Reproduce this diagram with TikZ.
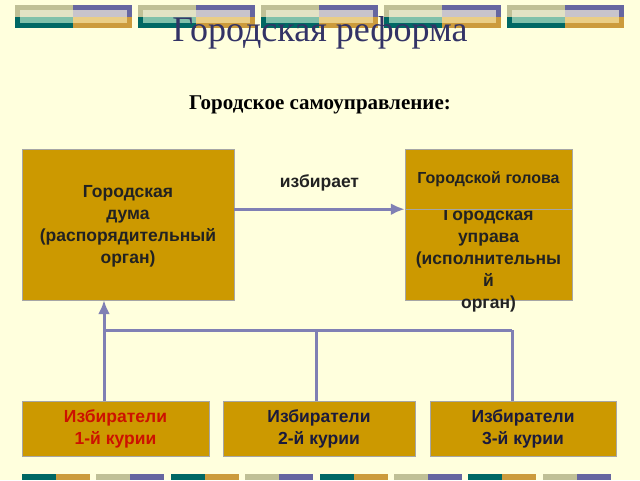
\documentclass[tikz,border=0pt]{standalone}
\usepackage{fontspec}
\setmainfont{Liberation Serif}
\setsansfont{Liberation Sans}
\usepackage{tikz}
\usetikzlibrary{arrows.meta}
\definecolor{paper}{RGB}{255,255,221}
\definecolor{ochre}{RGB}{204,153,0}
\definecolor{wire}{RGB}{128,128,180}
\definecolor{heading}{RGB}{51,51,102}
\definecolor{ink}{RGB}{34,34,34}
\definecolor{navy}{RGB}{26,26,60}
\definecolor{redink}{RGB}{204,17,0}
\definecolor{barteal}{RGB}{0,104,100}
\definecolor{bargold}{RGB}{204,155,60}
\definecolor{barsage}{RGB}{192,192,150}
\definecolor{barviolet}{RGB}{102,102,160}
\definecolor{palesage}{RGB}{226,226,196}
\definecolor{paleteal}{RGB}{128,192,170}
\definecolor{paleviolet}{RGB}{200,196,204}
\definecolor{palegold}{RGB}{234,206,134}

\begin{document}
\begin{tikzpicture}[x=1pt,y=-1pt]
% Node styles ---
\tikzstyle{box} = [rectangle, draw = gray!70, fill = ochre, inner sep = 0pt] % Organs and voters
\tikzstyle{txt} = [align = center, text = ink, font = \sffamily\bfseries\fontsize{17.5}{22}\selectfont] % Box text
% Edge styles
\tikzstyle{wirex} = [draw = wire, line width = 3pt] % Plain lines
\tikzstyle{con} = [wirex, -{Latex[length=14pt,width=12pt]}] % Elects
% Background and bars ---
\fill[paper] (0,0) rectangle (640,480);
\foreach \x in {15,138,261,384,507} {
  \fill[barsage] (\x,5) rectangle ++(58,12);
  \fill[barteal] (\x,17) rectangle ++(58,11);
  \fill[barviolet] (\x+58,5) rectangle ++(59,12);
  \fill[bargold] (\x+58,17) rectangle ++(59,11);
  \fill[palesage] (\x+5,10) rectangle ++(53,7);
  \fill[paleteal] (\x+5,17) rectangle ++(53,6);
  \fill[paleviolet] (\x+58,10) rectangle ++(54,7);
  \fill[palegold] (\x+58,17) rectangle ++(54,6);
}
\foreach \x in {22,170.8,319.6,468.4} {
  \fill[barteal] (\x,474) rectangle ++(34,6);
  \fill[bargold] (\x+34,474) rectangle ++(34,6);
}
\foreach \x in {96.4,245.2,394,542.8} {
  \fill[barsage] (\x,474) rectangle ++(34,6);
  \fill[barviolet] (\x+34,474) rectangle ++(34,6);
}
% Titles
\node at (320,33) [text = heading, font = \fontsize{36}{40}\selectfont] (title) {Городская реформа};
\node at (320,105) [font = \bfseries\fontsize{21}{24}\selectfont] (subtitle) {Городское самоуправление:};
% Nodes
\node at (128,224.5) [box, minimum width = 212pt, minimum height = 151pt] (duma) {};
\node at (128,226) [txt] (dumatext) {Городская\\дума\\(распорядительный\\орган)};
\node at (488.5,254.5) [box, minimum width = 167pt, minimum height = 91pt] (uprava) {};
\node at (488.5,260) [txt] (upravatext) {Городская\\управа\\(исполнительны\\й\\орган)};
\node at (488.5,179) [box, minimum width = 167pt, minimum height = 60pt, txt, font = \sffamily\bfseries\fontsize{16}{18}\selectfont] (golova) {Городской голова};
\node at (115.5,428.5) [box, minimum width = 187pt, minimum height = 55pt, txt, text = redink] (cur1) {Избиратели\\1-й курии};
\node at (319,428.5) [box, minimum width = 192pt, minimum height = 55pt, txt, text = navy] (cur2) {Избиратели\\2-й курии};
\node at (523,428.5) [box, minimum width = 186pt, minimum height = 55pt, txt, text = navy] (cur3) {Избиратели\\3-й курии};
\coordinate (bus1) at (104,330);
\coordinate (bus2) at (316,330);
\coordinate (bus3) at (512,330);
% Paths
\draw[con] (duma.east |- golova.south) -- node [above = 13pt, txt] {избирает} (golova.south west);
\draw[con] (cur1.north -| bus1) -- (duma.south -| bus1);
\draw[wirex] (bus1) -- (bus3);
\draw[wirex] (cur2.north -| bus2) -- (bus2);
\draw[wirex] (cur3.north -| bus3) -- (bus3);
\end{tikzpicture}
\end{document}
